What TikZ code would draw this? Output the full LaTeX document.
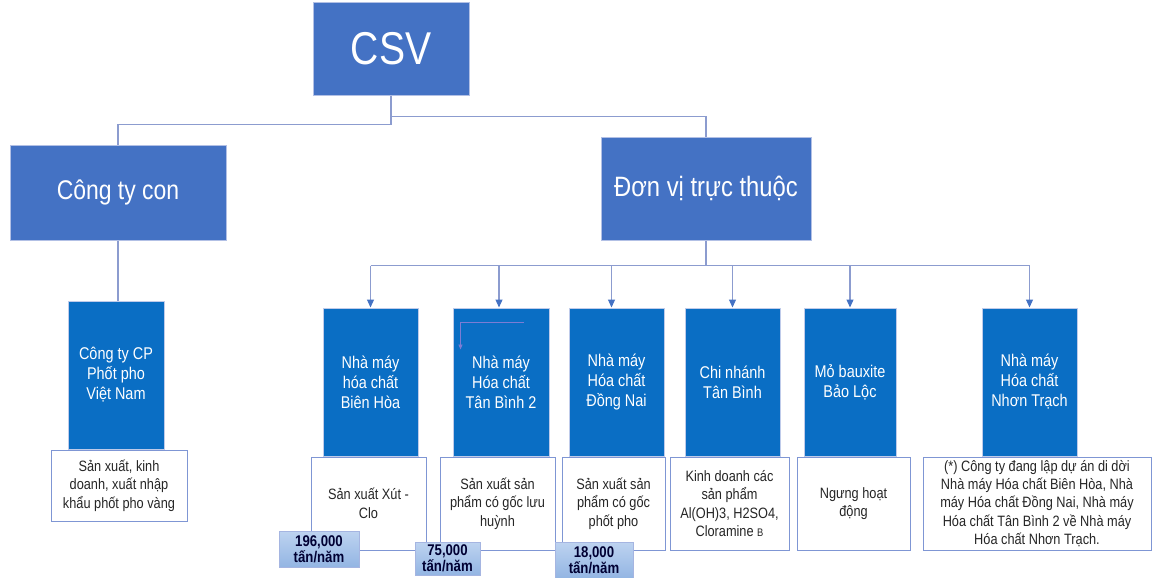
\documentclass[tikz,border=0pt]{standalone}
\usepackage{fontspec}
\setmainfont{Liberation Sans}[FakeStretch=0.85]
\usetikzlibrary{positioning,arrows.meta}
\definecolor{topblue}{HTML}{4472C4}
\definecolor{unitblue}{HTML}{0A6EC4}
\definecolor{edgeblue}{HTML}{7F96D4}
\definecolor{linegray}{HTML}{8C9CCF}
\definecolor{strayblue}{HTML}{7C7CD4}
\definecolor{tagtop}{HTML}{BDD3F0}
\definecolor{tagbot}{HTML}{93B5E3}
\tikzstyle{head} = [rectangle, draw=edgeblue!60, fill=topblue, text=white,
align=center, inner sep=0pt]
\tikzstyle{unit} = [rectangle, draw=edgeblue!50, fill=unitblue, text=white, align=center,
inner sep=0pt, minimum width=95pt, minimum height=148pt, font=\fontsize{17}{20}\selectfont]
\tikzstyle{desc} = [rectangle, draw=edgeblue, line width=1pt, fill=white, align=center,
inner sep=0pt, minimum height=93pt, font=\fontsize{15}{18.5}\selectfont, text=black!85]
\tikzstyle{tag} = [rectangle, draw=edgeblue!70, top color=tagtop, bottom color=tagbot,
align=center, inner sep=0pt, font=\fontsize{15.5}{16}\selectfont\bfseries, text=black!80!blue]
\tikzstyle{line} = [draw=linegray, line width=1.2pt]
\tikzstyle{arrow} = [line, -{Triangle[length=8pt, width=7pt, color=topblue]}]
\tikzstyle{stray} = [draw=strayblue, line width=0.8pt, -{Triangle[length=5pt, width=4pt]}]

\begin{document}
\begin{tikzpicture}[x=1pt, y=-1pt, line width=1pt]
    \useasboundingbox (0,0) rectangle (1159,578);

    % Nodes
    \node [head, minimum width=156pt, minimum height=92pt, font=\fontsize{46}{46}\selectfont] (csv) at (391,49) {CSV};
    \node [head, minimum width=216pt, minimum height=95pt, font=\fontsize{27}{27}\selectfont] (cong_ty_con) at (118,192.5) {Công ty con};
    \node [head, minimum width=210pt, minimum height=103pt, font=\fontsize{28}{28}\selectfont] (don_vi) at (706,188.5) {Đơn vị trực thuộc};

    \node [unit, minimum width=96pt] (phot_pho) at (116,375) {Công ty CP\\Phốt pho\\Việt Nam};
    \node [unit] (bien_hoa) at (370.5,382) {Nhà máy\\hóa chất\\Biên Hòa};
    \node [unit, minimum width=96pt] (tan_binh_2) at (501,382) {Nhà máy\\Hóa chất\\Tân Bình 2};
    \node [unit] (dong_nai) at (616.5,382) {Nhà máy\\Hóa chất\\Đồng Nai};
    \node [unit] (chi_nhanh) at (732.5,382) {Chi nhánh\\Tân Bình};
    \node [unit, minimum width=92pt] (bao_loc) at (850,382) {Mỏ bauxite\\Bảo Lộc};
    \node [unit] (nhon_trach) at (1029.5,382) {Nhà máy\\Hóa chất\\Nhơn Trạch};

    \node [desc, minimum width=136pt, minimum height=71pt, below=0pt of phot_pho, xshift=3pt] (phot_pho_sx) {Sản xuất, kinh\\doanh, xuất nhập\\khẩu phốt pho vàng};
    \node [desc, minimum width=115pt, below=0pt of bien_hoa, xshift=-2pt] (bien_hoa_sx) {Sản xuất Xút -\\Clo};
    \node [desc, minimum width=115pt, below=0pt of tan_binh_2, xshift=-3.5pt] (tan_binh_2_sx) {Sản xuất sản\\phẩm có gốc lưu\\huỳnh};
    \node [desc, minimum width=103pt, below=0pt of dong_nai, xshift=-3pt] (dong_nai_sx) {Sản xuất sản\\phẩm có gốc\\phốt pho};
    \node [desc, minimum width=119pt, below=0pt of chi_nhanh, xshift=-3pt] (chi_nhanh_sx) {Kinh doanh các\\sản phẩm\\Al(OH)3, H2SO4,\\Cloramine {\fontsize{11}{11}\selectfont B}};
    \node [desc, minimum width=113pt, below=0pt of bao_loc, xshift=3.5pt] (bao_loc_sx) {Ngưng hoạt\\động};
    \node [desc, minimum width=228pt, below=0pt of nhon_trach, xshift=7.5pt, font=\fontsize{15}{18.2}\selectfont] (nhon_trach_sx) {(*) Công ty đang lập dự án di dời\\Nhà máy Hóa chất Biên Hòa, Nhà\\máy Hóa chất Đồng Nai, Nhà máy\\Hóa chất Tân Bình 2 về Nhà máy\\Hóa chất Nhơn Trạch.};

    \node [tag, minimum width=80pt, minimum height=36pt] (bien_hoa_cs) at (319,549) {196,000\\tấn/năm};
    \node [tag, minimum width=65pt, minimum height=33pt] (tan_binh_2_cs) at (447.5,558.5) {75,000\\tấn/năm};
    \node [tag, minimum width=78pt, minimum height=36pt] (dong_nai_cs) at (594,560) {18,000\\tấn/năm};

    % connectors
    \draw [line] (csv.south) -- ++(0,29) -| (cong_ty_con.north);
    \draw [line] (csv.south) -- ++(0,21) -| (don_vi.north);
    \draw [line] (cong_ty_con.south) -- (cong_ty_con.south |- phot_pho.north);

    \draw [line] (don_vi.south) -- ++(0,25) coordinate (bus);
    \draw [line] (bus -| bien_hoa.north) -- (bus -| nhon_trach.north);
    \draw [arrow] (bus -| bien_hoa.north) -- (bien_hoa.north);
    \draw [arrow] ([xshift=-2pt]bus -| tan_binh_2.north) -- ([xshift=-2pt]tan_binh_2.north);
    \draw [arrow] ([xshift=-5pt]bus -| dong_nai.north) -- ([xshift=-5pt]dong_nai.north);
    \draw [arrow] (bus -| chi_nhanh.north) -- (chi_nhanh.north);
    \draw [arrow] (bus -| bao_loc.north) -- (bao_loc.north);
    \draw [arrow] (bus -| nhon_trach.north) -- (nhon_trach.north);

    \draw [stray] ([shift={(71,15)}]tan_binh_2.north west) -| ([shift={(8,42)}]tan_binh_2.north west);
\end{tikzpicture}
\end{document}
